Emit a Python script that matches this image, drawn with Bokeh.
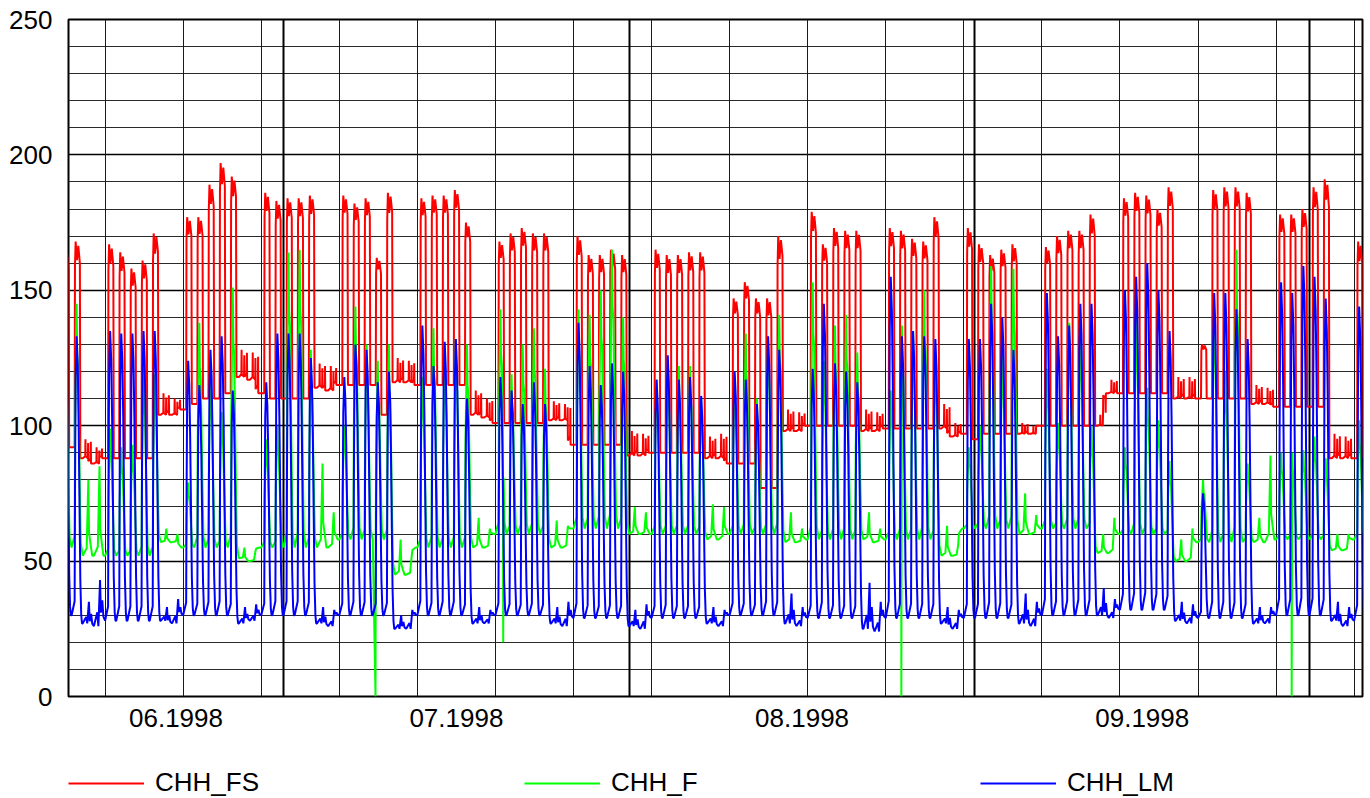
import datetime as dt
from bokeh.plotting import figure
from bokeh.layouts import column
from bokeh.models import Range1d, FixedTicker, Grid, Legend, LegendItem
from bokeh.embed import file_html
from bokeh.resources import INLINE

# ---------------- data ----------------
# day index 0 = 1998-06-01; arrays start at day 10 (1998-06-11) and run to day 126 (1998-10-05)
ORIGIN = dt.date(1998, 6, 1)
DAY0 = 10
X_START, X_END = 10.72, 126.75

red_base = [92, 92, 88, 86,
            88, 88, 88, 88, 88, 104, 104,
            106, 108, 110, 110, 112, 118, 117,
            112, 110, 110, 110, 110, 114, 113,
            115, 115, 115, 115, 104, 116, 116,
            115, 115, 115, 115, 115, 104, 103,
            101, 101, 101, 101, 101, 102, 102,
            93, 93, 93, 93, 93, 89, 89,
            90, 90, 90, 90, 90, 88, 88,
            86, 86, 86, 77, 77, 98, 98,
            100, 100, 100, 100, 100, 98, 98,
            99, 99, 99, 99, 99, 99, 96,
            97, 95, 97, 97, 97, 97, 97,
            100, 100, 100, 100, 100, 100, 112,
            112, 112, 112, 112, 112, 110, 110,
            110, 110, 110, 110, 110, 108, 108,
            107, 107, 107, 107, 107,
            88, 88, 88]
red_peak = [165, 168, 95, 92,
            167, 164, 158, 161, 171, 112, 110,
            177, 177, 189, 197, 192, 128, 127,
            186, 183, 184, 184, 185, 123, 122,
            185, 182, 184, 162, 186, 125, 124,
            184, 185, 185, 187, 175, 113, 110,
            168, 171, 173, 171, 171, 109, 108,
            170, 163, 163, 165, 163, 98, 97,
            165, 163, 163, 164, 164, 96, 97,
            147, 153, 147, 147, 170, 106, 105,
            179, 167, 173, 172, 172, 106, 105,
            173, 172, 169, 168, 177, 108, 101,
            173, 167, 163, 165, 167, 101, 100,
            166, 170, 172, 172, 178, 104, 117,
            184, 186, 185, 180, 188, 118, 118,
            130, 187, 188, 188, 186, 115, 114,
            178, 178, 180, 188, 191,
            97, 96, 168]
green_base = [55, 55, 52, 52,
              52, 52, 52, 52, 52, 57, 57,
              55, 55, 55, 55, 55, 51, 50,
              55, 55, 55, 55, 55, 55, 55,
              58, 58, 58, 58, 58, 45, 45,
              55, 55, 55, 55, 55, 55, 55,
              60, 60, 60, 60, 60, 55, 55,
              62, 62, 62, 62, 62, 60, 60,
              60, 60, 60, 60, 60, 58, 58,
              60, 60, 60, 60, 60, 57, 57,
              58, 58, 58, 58, 58, 58, 57,
              58, 58, 58, 58, 58, 52, 52,
              62, 62, 62, 62, 62, 60, 60,
              62, 62, 62, 62, 62, 53, 53,
              60, 60, 60, 60, 60, 50, 50,
              57, 57, 57, 57, 57, 57, 57,
              58, 58, 58, 58, 58,
              54, 54, 58]
green_peak = [130, 145, 80, 85,
              99, 92, 93, 121, 119, 62, 60,
              79, 138, 118, 105, 151, 55, 54,
              95, 100, 164, 165, 128, 86, 68,
              100, 144, 130, 124, 130, 58, 52,
              118, 136, 125, 132, 130, 66, 62,
              143, 119, 130, 136, 121, 65, 63,
              143, 141, 150, 165, 140, 70, 68,
              117, 120, 122, 122, 110, 71, 70,
              118, 134, 110, 132, 141, 68, 62,
              153, 124, 137, 141, 127, 68, 62,
              113, 137, 135, 150, 126, 63, 56,
              92, 100, 159, 126, 158, 75, 67,
              121, 101, 138, 134, 100, 60, 66,
              92, 140, 114, 102, 87, 58, 62,
              80, 143, 120, 165, 86, 66, 89,
              90, 90, 91, 96, 88,
              60, 60, 102]
blue_base = [30, 30, 27, 26,
             28, 28, 28, 28, 28, 28, 27,
             30, 30, 30, 30, 30, 27, 28,
             30, 30, 30, 30, 30, 27, 26,
             30, 30, 30, 30, 30, 25, 25,
             30, 30, 30, 30, 30, 27, 27,
             30, 30, 30, 30, 30, 27, 26,
             29, 29, 29, 29, 29, 26, 25,
             29, 29, 29, 29, 29, 27, 26,
             30, 30, 30, 30, 30, 27, 26,
             29, 29, 29, 29, 29, 25, 24,
             29, 29, 29, 29, 29, 27, 25,
             29, 29, 29, 29, 29, 27, 26,
             30, 30, 30, 30, 30, 30, 29,
             32, 32, 32, 32, 32, 28, 27,
             29, 29, 29, 29, 29, 27, 27,
             30, 30, 30, 30, 30,
             28, 26, 28]
blue_peak = [133, 133, 35, 43,
             135, 134, 134, 135, 135, 33, 36,
             124, 115, 128, 133, 113, 33, 34,
             116, 134, 134, 134, 125, 33, 32,
             118, 130, 128, 116, 120, 30, 32,
             137, 122, 131, 132, 110, 33, 32,
             118, 113, 108, 116, 108, 33, 35,
             138, 122, 115, 123, 120, 32, 34,
             117, 126, 117, 118, 111, 33, 32,
             120, 117, 108, 133, 128, 38, 33,
             121, 145, 123, 120, 116, 42, 35,
             155, 133, 135, 133, 132, 33, 32,
             132, 132, 145, 140, 128, 38, 35,
             149, 133, 137, 145, 145, 40, 36,
             150, 155, 160, 150, 135, 35, 34,
             75, 149, 149, 143, 132, 33, 33,
             153, 149, 159, 155, 147,
             35, 33, 144]
# short drop-outs of CHH_F (day index, value)
green_drop_day = [38.25, 49.70, 85.40, 120.40]
green_drop_val = [0, 20, 0, 0]

series_names = ["CHH_FS", "CHH_F", "CHH_LM"]
series_colors = ["#ff0000", "#00ff00", "#0000ff"]
month_labels = ["06.1998", "07.1998", "08.1998", "09.1998"]
month_starts = [30, 61, 92, 122]          # 1 Jul, 1 Aug, 1 Sep, 1 Oct
y_major = [0, 50, 100, 150, 200, 250]
y_minor = [v for v in range(10, 250, 10) if v % 50]

# ---------------- daily shapes (style) ----------------
RED_WD = [(0.00, 0), (0.27, 0), (0.30, 0.88), (0.36, 1.0), (0.48, 0.91), (0.60, 0.98), (0.74, 0.90), (0.78, 0)]
RED_WE = [(0.00, 0), (0.22, 0.1), (0.24, 1.0), (0.26, 0.1), (0.46, 0), (0.48, 0.8), (0.50, 0.1), (0.70, 0.2), (0.72, 0.9), (0.74, 0)]
GRN_WD = [(0.00, 0), (0.27, 0.05), (0.31, 0.5), (0.38, 0.75), (0.45, 1.0), (0.50, 0.8), (0.58, 0.75), (0.66, 0.5), (0.74, 0.25), (0.82, 0.05)]
GRN_WE = [(0.00, 0), (0.35, 0.1), (0.50, 1.0), (0.56, 0.3), (0.70, 0.15), (0.85, 0)]
BLU_WD = [(0.00, 0), (0.27, 0.05), (0.31, 0.5), (0.36, 0.85), (0.45, 1.0), (0.55, 0.9), (0.63, 0.7),
          (0.71, 0.4), (0.78, 0.15), (0.86, 0.03), (0.93, 0)]
BLU_WE = [(0.00, 0), (0.30, 0.3), (0.40, 0), (0.55, 1.0), (0.62, 0.2), (0.75, 0.5), (0.85, 0.1)]


def is_weekend(d):
    return (ORIGIN + dt.timedelta(days=d)).weekday() >= 5


def build(base, peak, wd, we, extra_x=(), extra_y=()):
    pts = []
    n = len(base)
    for i in range(n):
        d = DAY0 + i
        b0 = base[i]
        b1 = base[i + 1] if i + 1 < n else base[i]
        for t, w in (we if is_weekend(d) else wd):
            b = b0 if t < 0.5 else b1
            pts.append((d + t, b + w * (peak[i] - b)))
    pts += list(zip(extra_x, extra_y))
    pts.sort()
    return [q[0] for q in pts], [q[1] for q in pts]


rx, ry = build(red_base, red_peak, RED_WD, RED_WE)
gx, gy = build(green_base, green_peak, GRN_WD, GRN_WE, green_drop_day, green_drop_val)
bx, by = build(blue_base, blue_peak, BLU_WD, BLU_WE)

mondays = [d for d in range(DAY0, int(X_END) + 1)
           if (ORIGIN + dt.timedelta(days=d)).weekday() == 0]
bounds = [X_START] + month_starts
month_mid = [round((bounds[i] + bounds[i + 1]) / 2, 2) for i in range(len(month_labels))]

# ---------------- main figure ----------------
FONT = "Liberation Sans"
p = figure(width=1366, height=740, output_backend="svg", toolbar_location=None,
           x_range=Range1d(X_START, X_END), y_range=Range1d(0, 250),
           min_border_left=68, min_border_right=4, min_border_top=19, min_border_bottom=44)
p.background_fill_color = "white"
p.border_fill_color = "white"
p.outline_line_color = "black"
p.outline_line_width = 2
p.xgrid.visible = False
p.ygrid.visible = False

p.add_layout(Grid(dimension=1, ticker=FixedTicker(ticks=y_minor), grid_line_color="#2a2a2a", grid_line_width=1))
p.add_layout(Grid(dimension=1, ticker=FixedTicker(ticks=y_major), grid_line_color="black", grid_line_width=1.6))
p.add_layout(Grid(dimension=0, ticker=FixedTicker(ticks=mondays), grid_line_color="#1a1a1a", grid_line_width=1))
p.add_layout(Grid(dimension=0, ticker=FixedTicker(ticks=month_starts), grid_line_color="black", grid_line_width=2))

p.line(rx, ry, line_color=series_colors[0], line_width=2)
p.line(gx, gy, line_color=series_colors[1], line_width=2)
p.line(bx, by, line_color=series_colors[2], line_width=2)

p.xaxis.ticker = FixedTicker(ticks=month_mid)
p.xaxis.major_label_overrides = {m: lab for m, lab in zip(month_mid, month_labels)}
p.yaxis.ticker = FixedTicker(ticks=y_major)
for ax in (p.xaxis[0], p.yaxis[0]):
    ax.axis_line_color = None
    ax.major_tick_line_color = None
    ax.minor_tick_line_color = None
    ax.major_tick_out = 0
    ax.major_tick_in = 0
    ax.minor_tick_out = 0
    ax.major_label_text_font = FONT
    ax.major_label_text_font_size = "26px"
    ax.major_label_text_color = "black"
p.xaxis.major_label_standoff = 12
p.yaxis.major_label_standoff = 16

# ---------------- legend strip ----------------
lg = figure(width=1366, height=58, output_backend="svg", toolbar_location=None,
            x_range=Range1d(0, 1), y_range=Range1d(0, 1),
            min_border_left=0, min_border_right=0, min_border_top=0, min_border_bottom=0)
lg.axis.visible = False
lg.grid.visible = False
lg.outline_line_color = None
lg.background_fill_color = "white"
lg.border_fill_color = "white"
items = []
for name, col in zip(series_names, series_colors):
    # points lie outside the strip's ranges; only the legend sample is seen
    r = lg.line([5, 6], [5, 6], line_color=col, line_width=2)
    items.append(LegendItem(label=name, renderers=[r]))
legend = Legend(items=items, orientation="horizontal", location=(0, 0),
                padding=0, margin=0, spacing=0,
                glyph_width=76, glyph_height=30, label_height=30, label_width=369, label_standoff=11,
                label_text_font=FONT, label_text_font_size="26px", label_text_color="black",
                border_line_color=None, background_fill_alpha=0)
lg.add_layout(legend)

open("out.html", "w").write(file_html(column(p, lg, spacing=0), INLINE))
